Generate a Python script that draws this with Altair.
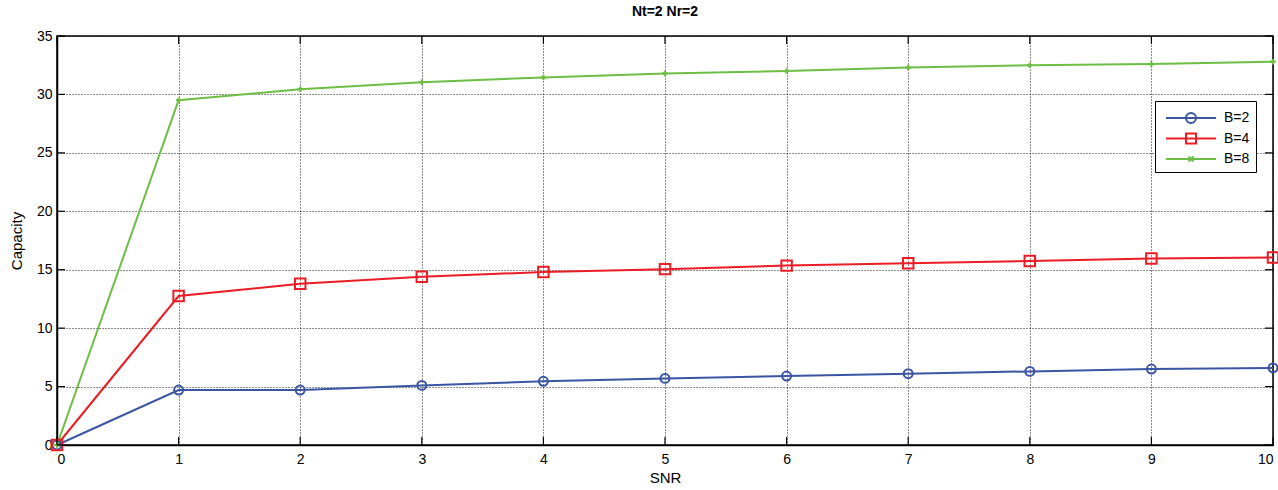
import altair as alt
import pandas as pd

snr = [0, 1, 2, 3, 4, 5, 6, 7, 8, 9, 10]
cap_b2 = [0, 4.7, 4.7, 5.1, 5.45, 5.7, 5.9, 6.1, 6.3, 6.5, 6.6]
cap_b4 = [0, 12.75, 13.8, 14.4, 14.8, 15.05, 15.35, 15.55, 15.75, 15.95, 16.05]
cap_b8 = [0, 29.5, 30.45, 31.05, 31.45, 31.8, 32.0, 32.3, 32.5, 32.6, 32.8]
series = ["B=2", "B=4", "B=8"]
colors = ["#3a55a4", "#ec1c24", "#6dbe45"]
x_ticks = list(range(0, 11))
y_ticks = list(range(0, 36, 5))

rows = []
for name, vals in zip(series, [cap_b2, cap_b4, cap_b8]):
    for s, v in zip(snr, vals):
        rows.append({"SNR": s, "Capacity": v, "series": name})
df = pd.DataFrame(rows)

xs = alt.Scale(domain=[0, 10], nice=False, zero=False)
ys = alt.Scale(domain=[0, 35], nice=False)

base = alt.Chart(df)

x_axis = alt.Axis(values=x_ticks, title="SNR", grid=True, tickSize=0,
                  labelPadding=7, titlePadding=4, format="d")
y_axis = alt.Axis(values=y_ticks, title="Capacity", grid=True, tickSize=0,
                  labelPadding=5, titlePadding=12, format="d")

shape_defs = [("B=2", "circle", 80), ("B=4", "square", 110), ("B=8", "cross", 30)]
line_layers = []
point_layers = []
for i, ((name, shp, sz), col) in enumerate(zip(shape_defs, colors)):
    sub = base.transform_filter(alt.datum.series == name)
    if i == 0:
        enc = dict(x=alt.X("SNR:Q", scale=xs, axis=x_axis), y=alt.Y("Capacity:Q", scale=ys, axis=y_axis))
    else:
        enc = dict(x=alt.X("SNR:Q", scale=xs), y=alt.Y("Capacity:Q", scale=ys))
    line_layers.append(sub.mark_line(strokeWidth=2, color=col).encode(**enc))
    point_layers.append(
        sub.mark_point(shape=shp, size=sz, filled=(shp == "cross"), strokeWidth=2,
                       color=col, opacity=1).encode(
            x=alt.X("SNR:Q", scale=xs), y=alt.Y("Capacity:Q", scale=ys))
    )

legend_paths = [
    "M-2.5,0H2.5M-0.5,0A0.5,0.5,0,1,0,0.5,0A0.5,0.5,0,1,0,-0.5,0",
    "M-2.5,0H2.5M-0.5,-0.5H0.5V0.5H-0.5Z",
    "M-2.5,0H2.5M-0.25,-0.25L0.25,0.25M-0.25,0.25L0.25,-0.25",
]
leg = dict(title=None, orient="none", legendX=1098, legendY=65,
           fillColor="white", strokeColor="black", padding=6,
           symbolSize=400, symbolStrokeWidth=2, symbolOffset=19, symbolOpacity=1,
           symbolFillColor="transparent",
           labelOffset=22, labelFontSize=14, labelFont="Liberation Sans",
           labelColor="black", rowPadding=0.5)
legend_layer = base.mark_point(size=400, strokeWidth=2, filled=False, opacity=0).encode(
    x=alt.X("SNR:Q", scale=xs),
    y=alt.Y("Capacity:Q", scale=ys),
    color=alt.Color("series:N", scale=alt.Scale(domain=series, range=colors),
                    legend=alt.Legend(**leg)),
    shape=alt.Shape("series:N", scale=alt.Scale(domain=series, range=legend_paths),
                    legend=alt.Legend(**leg)),
)

# inward tick marks (MATLAB style)
xt = pd.DataFrame({"t": x_ticks})
yt = pd.DataFrame({"t": y_ticks})
tick_bottom = alt.Chart(xt).mark_rule(color="black", strokeWidth=1.2).encode(
    x=alt.X("t:Q", scale=xs), y=alt.value(409), y2=alt.value(401))
tick_top = alt.Chart(xt).mark_rule(color="black", strokeWidth=1.2).encode(
    x=alt.X("t:Q", scale=xs), y=alt.value(0), y2=alt.value(8))
tick_left = alt.Chart(yt).mark_rule(color="black", strokeWidth=1.2).encode(
    y=alt.Y("t:Q", scale=ys), x=alt.value(0), x2=alt.value(8))
tick_right = alt.Chart(yt).mark_rule(color="black", strokeWidth=1.2).encode(
    y=alt.Y("t:Q", scale=ys), x=alt.value(1216), x2=alt.value(1208))

chart = alt.layer(
    *line_layers, *point_layers, tick_bottom, tick_top, tick_left, tick_right, legend_layer
).properties(
    width=1216, height=409,
    background="white",
    title=alt.Title("Nt=2 Nr=2", fontSize=14, fontWeight="bold", font="Liberation Sans",
                    color="black", offset=10, anchor="middle"),
    autosize=alt.AutoSizeParams(type="none"),
    padding={"left": 57, "top": 36, "right": 5, "bottom": 45},
).configure_view(
    stroke="black", strokeWidth=1.5
).configure_axis(
    gridColor="black", gridDash=[1, 2], gridOpacity=0.9, gridWidth=1,
    domainColor="black", domainWidth=1.5,
    labelFont="Liberation Sans", labelFontSize=14, labelColor="black",
    titleFont="Liberation Sans", titleFontSize=15, titleFontWeight="normal", titleColor="black",
)

chart.save("out.html", embed_options={"renderer": "svg", "actions": False})
